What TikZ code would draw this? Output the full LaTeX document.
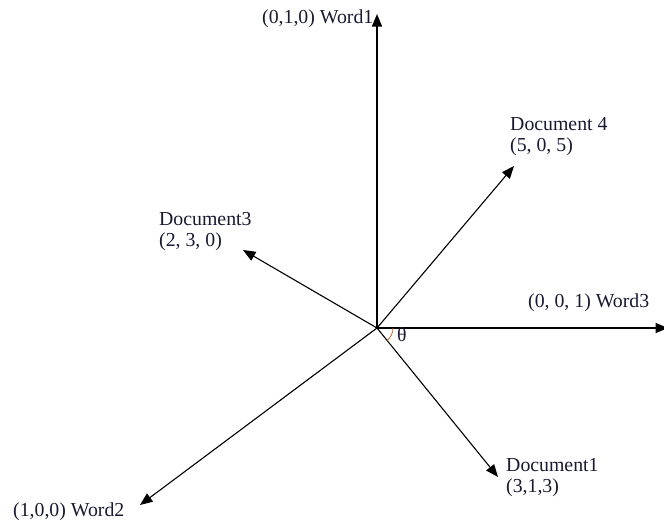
\documentclass[tikz,border=0pt]{standalone}
\usepackage{fontspec}
\setmainfont{Liberation Serif}
\usetikzlibrary{arrows.meta}
\definecolor{ink}{RGB}{25,25,50}
\definecolor{anglecol}{RGB}{190,110,40}
\begin{document}
\begin{tikzpicture}[x=1pt,y=-1pt,
  vec/.style={draw=black,line width=1.1pt,-{Triangle[length=12.5pt,width=10pt]}},
  axis/.style={vec,line width=1.5pt},
  lbl/.style={anchor=west,inner sep=0pt,text=ink,font=\fontsize{19.8}{21}\selectfont,align=left}]
\useasboundingbox (0,0) rectangle (664,528);
% origin and vector tips
\coordinate (o) at (377,328);
\coordinate (w1) at (377,14);
\coordinate (w3) at (668,328);
\coordinate (w2) at (140,505);
\coordinate (d1) at (498,477);
\coordinate (d3) at (243,250);
\coordinate (d4) at (514,166);
% axes
\draw[axis] (o) -- (w1);
\draw[axis] (o) -- (w3);
\draw[vec] (o) -- (w2);
% document vectors
\draw[vec] (o) -- (d1);
\draw[vec] (o) -- (d3);
\draw[vec] (o) -- (d4);
% angle between Document1 and Word3
\draw[anglecol,line width=0.8pt] ([shift={(0:16)}]o) arc[start angle=0,end angle=51,radius=16];
\node[lbl] (th) at (397,335) {θ};
% labels
\node[lbl] (lw1) at (262,19) {(0,1,0) Word1};
\node[lbl] (lw3) at (528,303) {(0, 0, 1) Word3};
\node[lbl] (lw2) at (13,512) {(1,0,0) Word2};
\node[lbl] (ld4) at (510,137) {Document 4\\(5, 0, 5)};
\node[lbl] (ld3) at (159,232) {Document3\\(2, 3, 0)};
\node[lbl] (ld1) at (506,478) {Document1\\(3,1,3)};
\end{tikzpicture}
\end{document}
